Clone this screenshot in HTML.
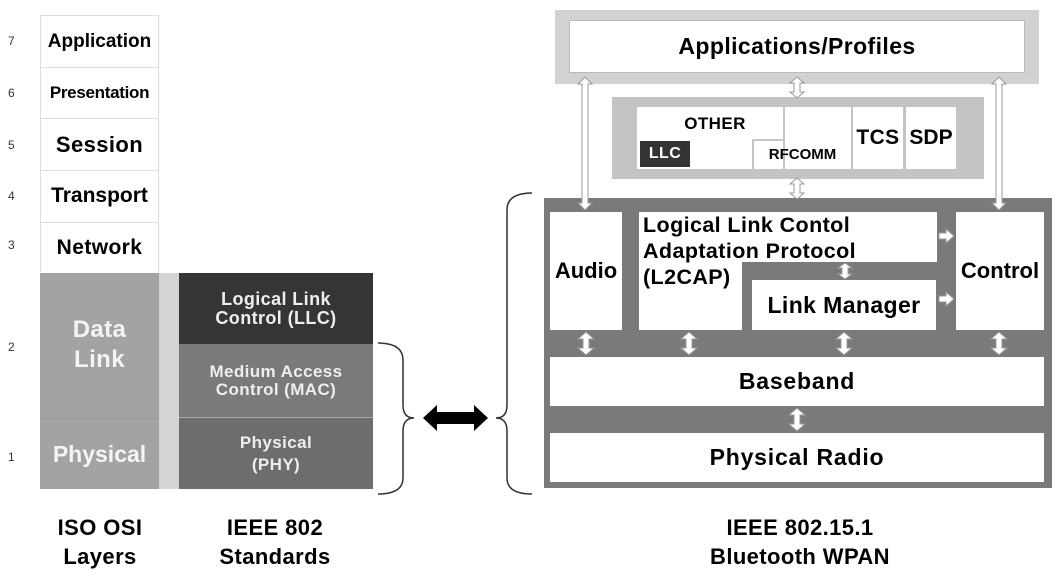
<!DOCTYPE html>
<html><head><meta charset="utf-8"><style>
body{margin:0;width:1058px;height:575px;background:#fff;position:relative;overflow:hidden;font-family:"Liberation Sans",Arial,sans-serif;font-weight:bold;letter-spacing:0.4px}
.b{position:absolute;box-sizing:border-box;display:flex;align-items:center;justify-content:center;text-align:center;line-height:1.05;white-space:nowrap}
.n{position:absolute;font-size:12px;font-weight:normal;color:#333;left:8px}
.w{background:#fff}
</style></head><body>
<!-- OSI column -->
<div class="b w" style="left:40px;top:15px;width:119px;height:53px;border:1px solid #ddd;font-size:19px;letter-spacing:0">Application</div>
<div class="b w" style="left:40px;top:67px;width:119px;height:52px;border:1px solid #ddd;font-size:17px;letter-spacing:-0.3px">Presentation</div>
<div class="b w" style="left:40px;top:118px;width:119px;height:53px;border:1px solid #ddd;font-size:22px">Session</div>
<div class="b w" style="left:40px;top:170px;width:119px;height:53px;border:1px solid #ddd;font-size:21px;letter-spacing:0">Transport</div>
<div class="b w" style="left:40px;top:222px;width:119px;height:52px;border:1px solid #ddd;font-size:21px">Network</div>
<div class="b" style="left:40px;top:273px;width:119px;height:145px;background:#a3a3a3;color:#f4f4f4;font-size:24px;line-height:30px;padding-bottom:2px">Data<br>Link</div>
<div class="b" style="left:40px;top:418px;width:119px;height:71px;background:#a3a3a3;color:#f4f4f4;font-size:23px;letter-spacing:0;border-top:1px solid #999">Physical</div>
<div style="position:absolute;left:159px;top:273px;width:20px;height:216px;background:#d4d4d4"></div>
<div class="n" style="top:34px">7</div><div class="n" style="top:86px">6</div><div class="n" style="top:138px">5</div><div class="n" style="top:189px">4</div><div class="n" style="top:238px">3</div><div class="n" style="top:340px">2</div><div class="n" style="top:450px">1</div>
<!-- IEEE 802 -->
<div class="b" style="left:179px;top:273px;width:194px;height:71px;background:#353535;color:#eee;font-size:18px">Logical Link<br>Control (LLC)</div>
<div class="b" style="left:179px;top:344px;width:194px;height:74px;background:#7a7a7a;color:#eee;font-size:17px;border-bottom:1px solid #aaa">Medium Access<br>Control (MAC)</div>
<div class="b" style="left:179px;top:418px;width:194px;height:71px;background:#6d6d6d;color:#eee;font-size:17px;line-height:22px">Physical<br>(PHY)</div>
<svg style="position:absolute;left:0;top:0" width="1058" height="575">
<path d="M378 343 Q403 343 403 360 L403 405 Q403 418 414 418 Q403 418 403 431 L403 478 Q403 494 378 494" fill="none" stroke="#333" stroke-width="1.5"/>
<path d="M532 193 Q507 193 507 210 L507 405 Q507 418 496 418 Q507 418 507 431 L507 478 Q507 494 532 494" fill="none" stroke="#333" stroke-width="1.5"/>
<polygon points="423,418 437,405 437,412 474,412 474,405 488,418 474,431 474,424 437,424 437,431" fill="#000"/>
</svg>
<!-- Bluetooth -->
<div style="position:absolute;left:555px;top:10px;width:484px;height:74px;background:#d2d2d2"></div>
<div class="b w" style="left:569px;top:20px;width:456px;height:53px;font-size:23px;border:1px solid #bbb">Applications/Profiles</div>
<div style="position:absolute;left:612px;top:97px;width:372px;height:82px;background:#c4c4c4"></div>
<div style="position:absolute;left:637px;top:107px;width:146px;height:62px;background:#fff"></div>
<div style="position:absolute;left:752px;top:139px;width:31px;height:30px;background:#c4c4c4"></div>
<div style="position:absolute;left:754px;top:141px;width:29px;height:28px;background:#fff"></div>
<div style="position:absolute;left:785px;top:107px;width:66px;height:62px;background:#fff"></div>
<div class="b" style="left:637px;top:112px;width:146px;height:24px;font-size:17px;padding-left:10px">OTHER</div>
<div class="b" style="left:640px;top:141px;width:50px;height:26px;background:#333;color:#fff;font-size:16px">LLC</div>
<div class="b" style="left:754px;top:143px;width:97px;height:24px;font-size:15px;letter-spacing:0">RFCOMM</div>
<div class="b w" style="left:853px;top:107px;width:50px;height:62px;font-size:21px">TCS</div>
<div class="b w" style="left:906px;top:107px;width:50px;height:62px;font-size:21px;letter-spacing:0">SDP</div>
<div style="position:absolute;left:544px;top:198px;width:508px;height:290px;background:#7a7a7a"></div>
<div class="b w" style="left:550px;top:212px;width:72px;height:118px;font-size:22px;letter-spacing:0">Audio</div>
<div style="position:absolute;left:639px;top:212px;width:298px;height:50px;background:#fff"></div>
<div style="position:absolute;left:639px;top:261px;width:103px;height:69px;background:#fff"></div>
<div style="position:absolute;left:643px;top:212px;font-size:21.5px;line-height:26px">Logical Link Contol<br>Adaptation Protocol<br>(L2CAP)</div>
<div class="b w" style="left:752px;top:280px;width:184px;height:50px;font-size:23px">Link Manager</div>
<div class="b w" style="left:956px;top:212px;width:88px;height:118px;font-size:22px;letter-spacing:0">Control</div>
<div class="b w" style="left:550px;top:357px;width:494px;height:49px;font-size:23px;letter-spacing:0.8px">Baseband</div>
<div class="b w" style="left:550px;top:433px;width:494px;height:49px;font-size:23px;letter-spacing:0.8px">Physical Radio</div>
<svg style="position:absolute;left:0;top:0" width="1058" height="575">
<g fill="#fff" stroke="#999" stroke-width="1">
<polygon points="585,77 592,84 588,84 588,203 592,203 585,210 578,203 582,203 582,84 578,84"/>
<polygon points="999,77 1006,84 1002,84 1002,203 1006,203 999,210 992,203 996,203 996,84 992,84"/>
<polygon points="797,77 804,83 800,83 800,92 804,92 797,98 790,92 794,92 794,83 790,83"/>
<polygon points="797,178 804,184 800,184 800,193 804,193 797,199 790,193 794,193 794,184 790,184"/>
<polygon points="586,332 594,339 589,339 589,348 594,348 586,355 578,348 583,348 583,339 578,339"/>
<polygon points="689,332 697,339 692,339 692,348 697,348 689,355 681,348 686,348 686,339 681,339"/>
<polygon points="844,332 852,339 847,339 847,348 852,348 844,355 836,348 841,348 841,339 836,339"/>
<polygon points="999,332 1007,339 1002,339 1002,348 1007,348 999,355 991,348 996,348 996,339 991,339"/>
<polygon points="797,408 805,415 800,415 800,424 805,424 797,431 789,424 794,424 794,415 789,415"/>
<polygon points="845,263 852,268 848,268 848,274 852,274 845,279 838,274 842,274 842,268 838,268"/>
<polygon points="939,233 946,233 946,229 954,236 946,243 946,239 939,239"/>
<polygon points="939,296 946,296 946,292 954,299 946,306 946,302 939,302"/>
</g>
</svg>
<!-- bottom labels -->
<div class="b" style="left:20px;top:512px;width:160px;height:60px;font-size:22px;line-height:29px">ISO OSI<br>Layers</div>
<div class="b" style="left:195px;top:512px;width:160px;height:60px;font-size:22px;line-height:29px">IEEE 802<br>Standards</div>
<div class="b" style="left:660px;top:512px;width:280px;height:60px;font-size:22px;line-height:29px">IEEE 802.15.1<br>Bluetooth WPAN</div>
</body></html>
